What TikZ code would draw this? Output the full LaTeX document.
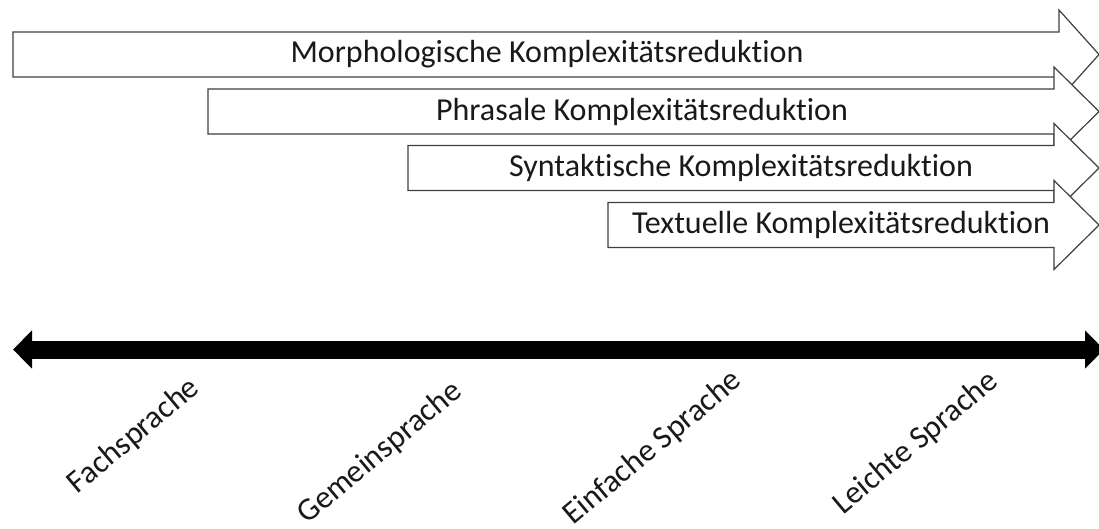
\documentclass[tikz,border=0pt]{standalone}
\usepackage{fontspec}
\setmainfont{Carlito}[Ligatures={NoCommon}]
\usetikzlibrary{arrows.meta}
\tikzset{
  blockarrow/.style={draw=black!75, line width=1.2pt, fill=white, line join=miter},
  reductext/.style={inner sep=0pt, font=\fontsize{32}{34}\selectfont, text=black!90},
  langtext/.style={inner sep=0pt, font=\fontsize{32}{34}\selectfont, text=black!90, rotate=40},
  scalebar/.style={line width=18pt, {Triangle[length=19pt 0 0, width=37pt 0 0]}-{Triangle[length=19pt 0 0, width=37pt 0 0]}}
}
\newcommand{\blkarrow}[3]{% left x, shaft end x, centre y
  \draw[blockarrow] (#1,#3-22.5) -- (#2,#3-22.5) -- (#2,#3-44.5) -- (1099,#3)
    -- (#2,#3+44.5) -- (#2,#3+22.5) -- (#1,#3+22.5) -- cycle;}
\begin{document}
\begin{tikzpicture}[x=1pt,y=-1pt]
\useasboundingbox (0,0) rectangle (1099,528);
\clip (0,0) rectangle (1099,528);
\fill[white] (0,0) rectangle (1099,528);
% block arrows
\blkarrow{13}{1059}{54.5}
\node[reductext] (morph) at (547,54.5) {Morphologische Komplexitätsreduktion};
\blkarrow{208}{1054}{111.5}
\node[reductext] (phras) at (642,111.5) {Phrasale Komplexitätsreduktion};
\blkarrow{408}{1054}{168}
\node[reductext] (synt) at (741,168) {Syntaktische Komplexitätsreduktion};
\blkarrow{608}{1054}{225}
\node[reductext] (text) at (841,225) {Textuelle Komplexitätsreduktion};
% scale
\coordinate (left) at (13,349.5);
\coordinate (right) at (1104,349.5);
\draw[scalebar] (left) -- (right);
% language labels
\node[langtext] (fach) at (134,436) {Fachsprache};
\node[langtext] (gemein) at (380,453) {Gemeinsprache};
\node[langtext] (einfach) at (653,448) {Einfache Sprache};
\node[langtext] (leicht) at (916,443) {Leichte Sprache};
\end{tikzpicture}
\end{document}
